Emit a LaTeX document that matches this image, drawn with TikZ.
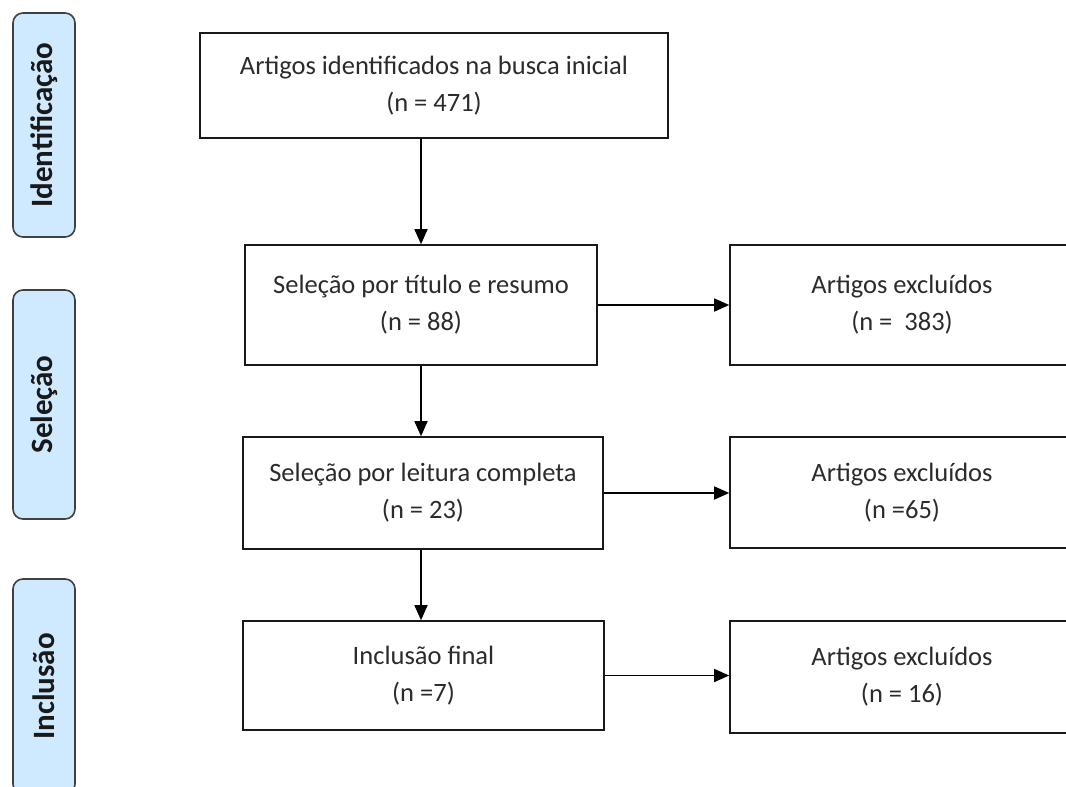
\documentclass[tikz,border=0pt]{standalone}
\usepackage{fontspec}
\setmainfont{Carlito}
\usepackage{xcolor}
\usetikzlibrary{arrows.meta}
\definecolor{phaseblue}{HTML}{CFE9FF}
\definecolor{txtgray}{HTML}{2B2B2B}

\begin{document}
\begin{tikzpicture}[
    x=1pt, y=-1pt,
    >={Triangle[length=15pt,width=13pt]},
    stage/.style={rectangle, draw=black!90, line width=1.6pt, align=center, text=txtgray, font=\fontsize{26.5}{37}\selectfont, inner sep=0pt},
    excl/.style={stage, minimum width=344pt},
    phase/.style={rectangle, draw=black!75, line width=1.6pt, rounded corners=10pt, fill=phaseblue, minimum height=62pt, rotate=90, font=\fontsize{31}{34}\selectfont\bfseries, text=black!90, inner sep=0pt},
    flow/.style={->, line width=1.4pt, black},
]
\clip (0,0) rectangle (1066,787);

% Phases
\node[phase, minimum width=224pt] (idphase) at (44,125) {Identificação};
\node[phase, minimum width=229pt] (selphase) at (44,404.5) {Seleção};
\node[phase, minimum width=215pt] (incphase) at (44,686.5) {Inclusão};

% Main column
\node[stage, minimum width=468pt, minimum height=105pt] (busca) at (434,85.5) {Artigos identificados na busca inicial\\(n = 471)};
\node[stage, minimum width=352pt, minimum height=120pt] (titulo) at (421,305) {Seleção por título e resumo\\(n = 88)};
\node[stage, minimum width=360pt, minimum height=112pt] (leitura) at (423,493) {Seleção por leitura completa\\(n = 23)};
\node[stage, minimum width=361pt, minimum height=109pt] (inclusao) at (423.5,675.5) {Inclusão final\\(n =7)};

% Exclusions
\node[excl, minimum height=120pt] (exc1) at (902,305) {Artigos excluídos\\(n =\ \ 383)};
\node[excl, minimum height=111pt] (exc2) at (902,492.5) {Artigos excluídos\\(n =65)};
\node[excl, minimum height=112pt] (exc3) at (902,677) {Artigos excluídos\\(n = 16)};

% Arrows
\draw[flow] (busca.south -| titulo.north) -- (titulo.north);
\draw[flow] (titulo.south) -- (titulo.south |- leitura.north);
\draw[flow] (leitura.south -| titulo.south) -- (inclusao.north -| titulo.south);
\draw[flow] (titulo.east) -- (exc1.west);
\draw[flow] (leitura.east) -- (leitura.east -| exc2.west);
\draw[flow] (inclusao.east) -- (inclusao.east -| exc3.west);

\end{tikzpicture}
\end{document}
